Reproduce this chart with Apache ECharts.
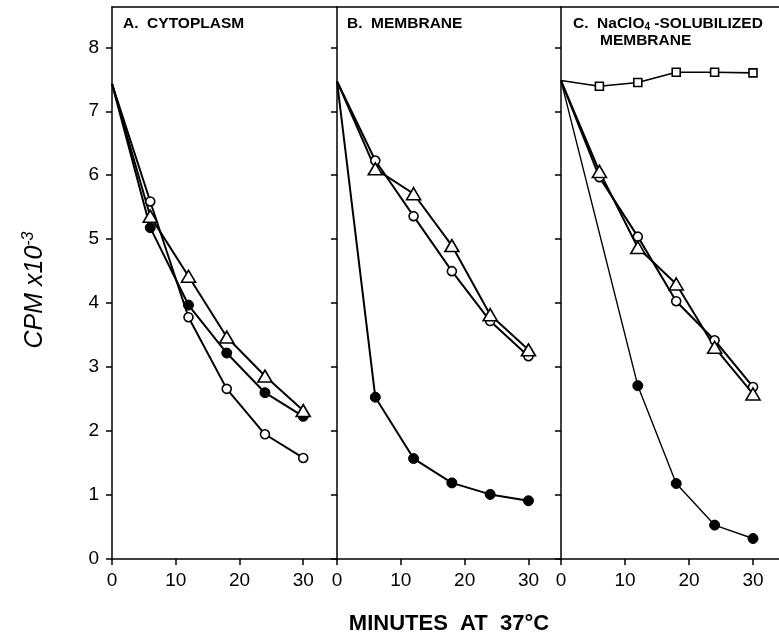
<!DOCTYPE html>
<html><head><meta charset="utf-8">
<script src="https://cdn.jsdelivr.net/npm/echarts@6/dist/echarts.min.js"></script>
<style>html,body{margin:0;padding:0;background:#fff}#c{width:779px;height:638px}</style>
</head><body><div id="c"></div>
<script>
// ---- data ----
const minutes = [0, 6, 12, 18, 24, 30];
const yTicks = [0, 1, 2, 3, 4, 5, 6, 7, 8];
const xTicks = [0, 10, 20, 30];
// Panel A: cytoplasm
const aOpen   = [7.43, 5.59, 3.78, 2.66, 1.95, 1.58];
const aFilled = [7.43, 5.18, 3.97, 3.22, 2.60, 2.23];
const aTri    = [7.43, 5.36, 4.42, 3.47, 2.86, 2.32];
// Panel B: membrane
const bOpen   = [7.47, 6.23, 5.36, 4.50, 3.72, 3.17];
const bTri    = [7.47, 6.10, 5.71, 4.90, 3.82, 3.27];
const bFilled = [7.47, 2.53, 1.57, 1.19, 1.01, 0.91];
// Panel C: NaClO4-solubilized membrane
const cSquare = [7.48, 7.39, 7.45, 7.61, 7.61, 7.60];
const cOpen   = [7.48, 5.97, 5.04, 4.03, 3.42, 2.69];
const cTri    = [7.48, 6.06, 4.87, 4.30, 3.31, 2.58];
const cFilledMinutes = [0, 12, 18, 24, 30];
const cFilled = [7.48, 2.71, 1.18, 0.53, 0.32];

// ---- layout ----
const panels = [
  {left: 112, width: 225, xmax: 35.3},
  {left: 337, width: 224, xmax: 35.1},
  {left: 561, width: 218, xmax: 34.06}
];
const TOP = 7, HEIGHT = 552, YMAX = 8.63;
const numFont = "'Liberation Sans', Arial, sans-serif";
const axisLine = {show: true, onZero: false, lineStyle: {color: '#000', width: 1.5}};

const chart = echarts.init(document.getElementById('c'), null, {renderer: 'canvas'});

const grids = panels.map(p => ({left: p.left, top: TOP, width: p.width, height: HEIGHT, show: false, containLabel: false}));

const xAxes = [];
panels.forEach((p, i) => {
  xAxes.push({
    type: 'value', gridIndex: i, min: 0, max: p.xmax, position: 'bottom',
    splitLine: {show: false}, axisLine: axisLine,
    axisTick: {show: true, inside: false, length: 6, customValues: xTicks, lineStyle: {color: '#000', width: 1.5}},
    axisLabel: {show: true, customValues: xTicks, margin: 12, fontSize: 19, color: '#000', fontFamily: numFont}
  });
  // top frame line
  xAxes.push({
    type: 'value', gridIndex: i, min: 0, max: p.xmax, position: 'top',
    splitLine: {show: false}, axisLine: axisLine, axisTick: {show: false}, axisLabel: {show: false}
  });
});

const yAxes = panels.map((p, i) => ({
  type: 'value', gridIndex: i, min: 0, max: YMAX,
  splitLine: {show: false}, axisLine: axisLine,
  axisTick: {show: true, inside: false, length: 6, customValues: yTicks, lineStyle: {color: '#000', width: 1.5}},
  axisLabel: {show: i === 0, customValues: yTicks, margin: 13, fontSize: 19, color: '#000', fontFamily: numFont}
}));

function pts(xs, ys) {
  return ys.map((v, i) => i === 0 ? {value: [xs[i], v], symbol: 'none'} : [xs[i], v]);
}
function mk(idx, xs, ys, kind, lw) {
  const s = {type: 'line', xAxisIndex: idx * 2, yAxisIndex: idx, data: pts(xs, ys),
    lineStyle: {color: '#000', width: lw || 2}, emphasis: {disabled: true}, z: 2};
  if (kind === 'open') Object.assign(s, {symbol: 'circle', symbolSize: 9,
    itemStyle: {color: '#fff', borderColor: '#000', borderWidth: 1.6}});
  if (kind === 'filled') Object.assign(s, {symbol: 'circle', symbolSize: 10,
    itemStyle: {color: '#000', borderColor: '#000', borderWidth: 1}});
  if (kind === 'tri') Object.assign(s, {symbol: 'triangle', symbolSize: [14, 12],
    itemStyle: {color: '#fff', borderColor: '#000', borderWidth: 1.6}});
  if (kind === 'sq') Object.assign(s, {symbol: 'rect', symbolSize: [8, 8],
    itemStyle: {color: '#fff', borderColor: '#000', borderWidth: 1.6}});
  return s;
}

const series = [
  mk(0, minutes, aOpen, 'open'),
  mk(0, minutes, aFilled, 'filled'),
  mk(0, minutes, aTri, 'tri'),
  mk(1, minutes, bOpen, 'open'),
  mk(1, minutes, bTri, 'tri'),
  mk(1, minutes, bFilled, 'filled'),
  mk(2, minutes, cSquare, 'sq', 1.6),
  mk(2, minutes, cOpen, 'open'),
  mk(2, minutes, cTri, 'tri'),
  mk(2, cFilledMinutes, cFilled, 'filled', 1.4)
];

const titleFont = "bold 15.5px 'Liberation Sans', Arial, sans-serif";
chart.setOption({
  animation: false,
  backgroundColor: '#fff',
  grid: grids, xAxis: xAxes, yAxis: yAxes, series: series,
  graphic: [
    {type: 'text', left: 123, top: 16, style: {text: 'A.  CYTOPLASM', font: titleFont, fill: '#000'}},
    {type: 'text', left: 347, top: 16, style: {text: 'B.  MEMBRANE', font: titleFont, fill: '#000'}},
    {type: 'text', left: 573, top: 16, style: {text: 'C.  NaClO{s|4} -SOLUBILIZED', font: titleFont, fill: '#000',
      rich: {s: {font: "bold 10px 'Liberation Sans', Arial, sans-serif", verticalAlign: 'bottom', padding: [6, 0, 0, 0]}}}},
    {type: 'text', left: 600, top: 33, style: {text: 'MEMBRANE', font: titleFont, fill: '#000'}},
    {type: 'text', x: 449, y: 624, style: {text: 'MINUTES  AT  37\u00B0C', font: "bold 22px 'Liberation Sans', Arial, sans-serif",
      fill: '#000', align: 'center', verticalAlign: 'middle'}},
    {type: 'text', x: 35, y: 290, rotation: Math.PI / 2, style: {text: 'CPM x10{sup|-3}',
      font: "italic 25px 'Liberation Sans', Arial, sans-serif", fill: '#000',
      align: 'center', verticalAlign: 'middle',
      rich: {sup: {font: "italic 16px 'Liberation Sans', Arial, sans-serif", verticalAlign: 'top', padding: [0, 0, 12, 0]}}}}
  ]
});
</script>
</body></html>
